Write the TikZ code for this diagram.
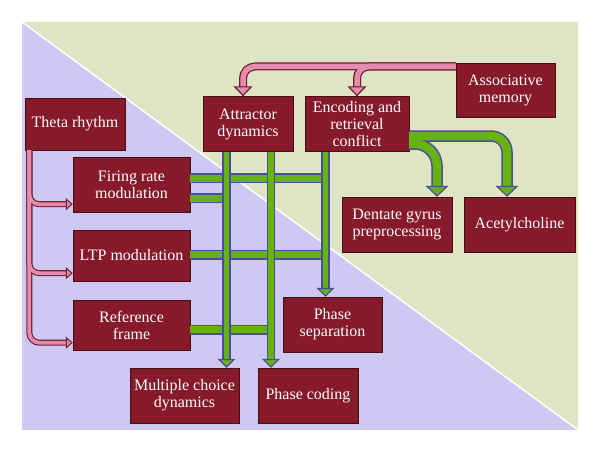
\documentclass[tikz,border=0pt]{standalone}
\usepackage{fontspec}
\setmainfont{Liberation Serif}
\usetikzlibrary{arrows.meta,positioning}

\definecolor{bgpurple}{RGB}{206,200,243}
\definecolor{bggreen}{RGB}{223,228,197}
\definecolor{boxred}{RGB}{134,25,42}
\definecolor{boxedge}{RGB}{72,14,24}
\definecolor{ggreen}{RGB}{102,178,16}
\definecolor{gblue}{RGB}{74,78,156}
\definecolor{pinkfill}{RGB}{228,140,172}
\definecolor{pinkedge}{RGB}{108,28,46}

\begin{document}
\begin{tikzpicture}[x=1pt,y=-1pt,
     box/.style = {draw=boxedge, fill=boxred, text=white, align=center, minimum height=55pt,
      inner sep=1pt, font=\fontsize{16}{17}\selectfont},
     hout/.style = {draw=gblue, line width=10pt},
     hin/.style = {draw=ggreen, line width=7pt},
     gout/.style = {draw=gblue, line width=8.5pt, shorten >=7pt},
     gin/.style = {draw=ggreen, line width=5.5pt,
      -{Triangle[length=9pt,width=18pt,line width=1.2pt,fill=ggreen,color=gblue]}},
     bout/.style = {draw=gblue, line width=11.5pt, shorten >=9pt, rounded corners=16pt},
     bin/.style = {draw=ggreen, line width=8.5pt, rounded corners=16pt,
      -{Triangle[length=11pt,width=23pt,line width=1.2pt,fill=ggreen,color=gblue]}},
     pout/.style = {draw=pinkedge, line width=6pt, shorten >=5pt, rounded corners=10pt},
     pin/.style = {draw=pinkfill, line width=3.8pt, rounded corners=10pt,
      -{Triangle[length=7pt,width=12pt,line width=1pt,fill=pinkfill,color=pinkedge]}},
     Pout/.style = {draw=pinkedge, line width=8pt, shorten >=8pt, rounded corners=12pt},
     Pin/.style = {draw=pinkfill, line width=5.5pt, rounded corners=12pt,
      -{Triangle[length=10pt,width=19pt,line width=1.2pt,fill=pinkfill,color=pinkedge]}}
    ]
    \useasboundingbox (0,0) rectangle (600,452);

    % background
    \fill[bgpurple] (22,22) rectangle (578,430);
    \fill[bggreen] (22,22) -- (578,22) -- (578,430) -- cycle;
    \draw[white, line width=1.5pt] (22,22) -- (578,430);

    \node [box, minimum width=100pt, minimum height=52pt] (theta) at (75,124) {Theta rhythm};
    \node [box, minimum width=90pt, right of=theta, node distance=173pt] (attr) {Attractor\\dynamics};
    \node [box, minimum width=104pt, right of=attr, node distance=109pt] (enc) {Encoding and\\retrieval\\conflict};
    \node [box, minimum width=99pt, minimum height=54pt] (assoc) at (505.5,90) {Associative\\memory};
    \node [box, minimum width=117pt] (firing) at (131.5,184.5) {Firing rate\\modulation};
    \node [box, minimum width=117pt, minimum height=51pt, below of=firing, node distance=71pt] (ltp) {LTP modulation};
    \node [box, minimum width=117pt, minimum height=50pt, below of=ltp, node distance=70pt] (ref) {Reference\\frame};
    \node [box, minimum width=110pt] (dentate) at (397,224.5) {Dentate gyrus\\preprocessing};
    \node [box, minimum width=111pt, right of=dentate, node distance=122.5pt] (ach) {Acetylcholine};
    \node [box, minimum width=99pt] (sep) at (332.5,324.5) {Phase\\separation};
    \node [box, minimum width=109pt] (multi) at (184.5,395.5) {Multiple choice\\dynamics};
    \node [box, minimum width=100pt, right of=multi, node distance=123.5pt] (coding) {Phase coding};

    \coordinate (av) at ([xshift=-21.5pt]attr.south);
    \coordinate (bv) at ([xshift=23pt]attr.south);
    \coordinate (ev) at ([xshift=-31.5pt]enc.south);
    \coordinate (f1) at ([yshift=6.5pt]firing.east);
    \coordinate (f2) at ([yshift=-13.5pt]firing.east);
    \coordinate (l1) at ([yshift=1pt]ltp.east);
    \coordinate (r1) at ([yshift=-4pt]ref.east);
    \coordinate (e1) at ([yshift=-12pt]enc.east);
    \coordinate (e2) at ([yshift=-20pt]enc.east);
    \coordinate (a1) at ([yshift=23.5pt]assoc.west);
    \coordinate (tt) at ([xshift=4.5pt]theta.south west);

    % horizontal bars
    \draw[hout] (f1) -- (f1 -| ev);
    \draw[hout] (f2) -- (f2 -| av);
    \draw[hout] (l1) -- (l1 -| ev);
    \draw[hout] (r1) -- (r1 -| bv);
    \draw[hin] (f1) -- (f1 -| ev);
    \draw[hin] (f2) -- (f2 -| av);
    \draw[hin] (l1) -- (l1 -| ev);
    \draw[hin] (r1) -- (r1 -| bv);

    % vertical arrows
    \draw[gout] (av) -- (av |- multi.north);
    \draw[gout] (bv) -- (bv |- coding.north);
    \draw[gout] (ev) -- (ev |- sep.north);
    \draw[gin] (av) -- (av |- multi.north);
    \draw[gin] (bv) -- (bv |- coding.north);
    \draw[gin] (ev) -- (ev |- sep.north);

    % encoding and retrieval conflict
    \draw[bout] (e1) -| ([xshift=-12.5pt]ach.north);
    \draw[bout, rounded corners=22pt] (e2) -| ([xshift=40pt]dentate.north);
    \draw[bin] (e1) -| ([xshift=-12.5pt]ach.north);
    \draw[bin, rounded corners=22pt] (e2) -| ([xshift=40pt]dentate.north);

    % associative memory
    \draw[Pout] (a1) -| ([xshift=-5pt]attr.north);
    \draw[Pout] (a1) -| (enc.north);
    \draw[Pin] (a1) -| ([xshift=-5pt]attr.north);
    \draw[Pin] (a1) -| (enc.north);

    % theta rhythm
    \draw[pout] (tt) |- ([yshift=8pt]ref.south west);
    \draw[pout] (tt) |- ([yshift=8pt]ltp.south west);
    \draw[pout] (tt) |- ([yshift=8pt]firing.south west);
    \draw[pin] (tt) |- ([yshift=8pt]ref.south west);
    \draw[pin] (tt) |- ([yshift=8pt]ltp.south west);
    \draw[pin] (tt) |- ([yshift=8pt]firing.south west);
\end{tikzpicture}
\end{document}
